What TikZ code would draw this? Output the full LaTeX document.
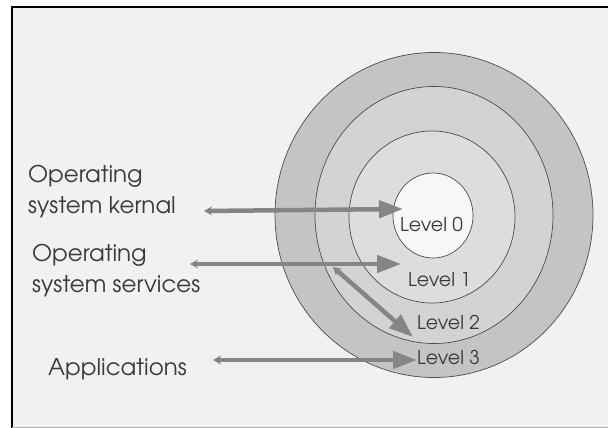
\documentclass[tikz,border=0pt]{standalone}
\usepackage{fontspec}
\setmainfont{TeX Gyre Adventor}
\usetikzlibrary{arrows.meta, positioning, shapes.geometric}
\definecolor{bgcol}{HTML}{F1F1F1}
\definecolor{ringthree}{HTML}{C4C4C4}
\definecolor{ringtwo}{HTML}{D3D3D3}
\definecolor{ringone}{HTML}{DDDDDD}
\definecolor{ringzero}{HTML}{F7F7F7}
\definecolor{arrowcol}{HTML}{858585}
\definecolor{textcol}{HTML}{3A3A3A}
\begin{document}
\begin{tikzpicture}[x=1pt,y=-1pt,
    ring/.style={ellipse,draw=black!70,line width=0.7pt,inner sep=0pt},
    big/.style={anchor=base west,inner sep=0pt,text=textcol,align=left,font=\fontsize{23}{31}\selectfont},
    lvl/.style={anchor=base west,inner sep=0pt,text=textcol,font=\fontsize{19}{22}\selectfont},
    link/.style={arrowcol,line width=4.5pt,{Stealth[length=8pt,width=9pt]}-{Triangle[length=24pt,width=17pt]}}]
    \useasboundingbox (0,0) rectangle (608,428);
    \fill[white] (0,0) rectangle (608,428);
    \fill[bgcol] (12,7) rectangle (608,428);
    \draw[black,line width=2pt] (12,428) -- (12,7) -- (608,7);
    \draw[black!30,line width=1pt] (12,427.5) -- (608,427.5);

    % rings
    \node[ring,fill=ringthree,minimum width=318pt,minimum height=325pt] (ring3) at (434,215) {};
    \node[ring,fill=ringtwo,minimum width=238pt,minimum height=257pt] (ring2) at (434,215) {};
    \node[ring,fill=ringone,minimum width=166pt,minimum height=172pt] (ring1) at (432,217) {};
    \node[ring,fill=ringzero,minimum width=80pt,minimum height=85pt] (ring0) at (433,215.5) {};

    % labels (base = last line)
    \node[big] (kernal) at (28,213) {Operating\\system kernal};
    \node[big] (services) at (32,292) {Operating\\system services};
    \node[big] (apps) at (48,375) {Applications};
    \node[lvl] (lvl0) at (400,231) {Level 0};
    \node[lvl] (lvl1) at (408,286) {Level 1};
    \node[lvl] (lvl2) at (417,329) {Level 2};
    \node[lvl] (lvl3) at (417,364) {Level 3};

    % arrows
    \coordinate (k0) at (204,211);
    \coordinate (k1) at (403,209);
    \coordinate (s0) at (190,264);
    \coordinate (s1) at (401,264);
    \coordinate (d0) at (333,267);
    \coordinate (d1) at (413,337);
    \coordinate (a0) at (213,360);
    \coordinate (a1) at (417,360);
    \draw[link] (k0) -- (k1);
    \draw[link] (s0) -- (s1);
    \draw[link] (d0) -- (d1);
    \draw[link] (a0) -- (a1);
\end{tikzpicture}
\end{document}
